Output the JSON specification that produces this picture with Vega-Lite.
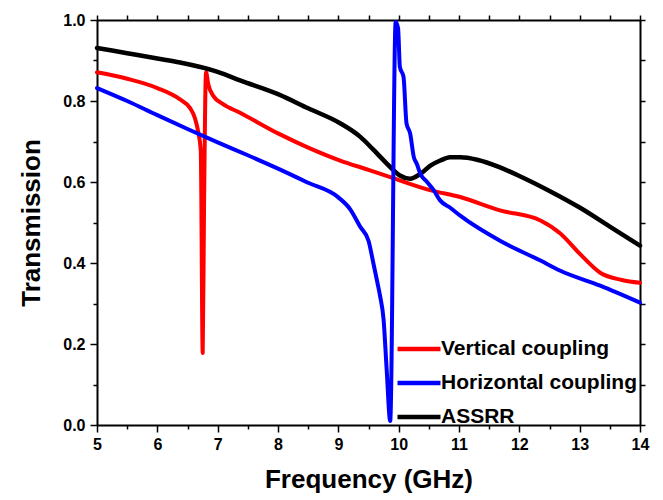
{
  "$schema": "https://vega.github.io/schema/vega-lite/v6.json",
  "width": 543,
  "height": 405,
  "autosize": {"type": "none"},
  "padding": {"left": 97, "top": 20, "right": 23, "bottom": 75},
  "config": {
    "view": {"stroke": null},
    "axis": {"grid": false, "labelColor": "black", "titleColor": "black", "labelFont": "Liberation Sans", "titleFont": "Liberation Sans", "labelFontWeight": "bold", "titleFontWeight": "bold", "labelFontSize": 16, "titleFontSize": 26, "domainColor": "black", "tickColor": "black", "domainWidth": 2, "tickWidth": 1.5}
  },
  "data": {"values": [
    {"s": "Vertical coupling", "f": 5.0, "t": 0.871},
    {"s": "Vertical coupling", "f": 5.5, "t": 0.855},
    {"s": "Vertical coupling", "f": 6.0, "t": 0.832},
    {"s": "Vertical coupling", "f": 6.376, "t": 0.804},
    {"s": "Vertical coupling", "f": 6.54, "t": 0.783},
    {"s": "Vertical coupling", "f": 6.62, "t": 0.759},
    {"s": "Vertical coupling", "f": 6.68, "t": 0.722},
    {"s": "Vertical coupling", "f": 6.72, "t": 0.677},
    {"s": "Vertical coupling", "f": 6.752, "t": 0.178},
    {"s": "Vertical coupling", "f": 6.774, "t": 0.537},
    {"s": "Vertical coupling", "f": 6.807, "t": 0.871},
    {"s": "Vertical coupling", "f": 6.845, "t": 0.841},
    {"s": "Vertical coupling", "f": 6.93, "t": 0.812},
    {"s": "Vertical coupling", "f": 7.09, "t": 0.792},
    {"s": "Vertical coupling", "f": 7.37, "t": 0.771},
    {"s": "Vertical coupling", "f": 8.0, "t": 0.72},
    {"s": "Vertical coupling", "f": 8.5, "t": 0.685},
    {"s": "Vertical coupling", "f": 9.03, "t": 0.653},
    {"s": "Vertical coupling", "f": 9.5, "t": 0.63},
    {"s": "Vertical coupling", "f": 9.86, "t": 0.612},
    {"s": "Vertical coupling", "f": 10.52, "t": 0.58},
    {"s": "Vertical coupling", "f": 11.02, "t": 0.563},
    {"s": "Vertical coupling", "f": 11.68, "t": 0.53},
    {"s": "Vertical coupling", "f": 12.35, "t": 0.505},
    {"s": "Vertical coupling", "f": 12.68, "t": 0.473},
    {"s": "Vertical coupling", "f": 13.0, "t": 0.423},
    {"s": "Vertical coupling", "f": 13.34, "t": 0.376},
    {"s": "Vertical coupling", "f": 13.7, "t": 0.358},
    {"s": "Vertical coupling", "f": 14.0, "t": 0.351},
    {"s": "ASSRR", "f": 5.0, "t": 0.931},
    {"s": "ASSRR", "f": 5.5, "t": 0.918},
    {"s": "ASSRR", "f": 6.0, "t": 0.905},
    {"s": "ASSRR", "f": 6.376, "t": 0.895},
    {"s": "ASSRR", "f": 7.0, "t": 0.872},
    {"s": "ASSRR", "f": 7.37, "t": 0.851},
    {"s": "ASSRR", "f": 8.0, "t": 0.817},
    {"s": "ASSRR", "f": 8.5, "t": 0.782},
    {"s": "ASSRR", "f": 9.03, "t": 0.745},
    {"s": "ASSRR", "f": 9.36, "t": 0.712},
    {"s": "ASSRR", "f": 9.58, "t": 0.68},
    {"s": "ASSRR", "f": 9.86, "t": 0.637},
    {"s": "ASSRR", "f": 10.02, "t": 0.616},
    {"s": "ASSRR", "f": 10.19, "t": 0.608},
    {"s": "ASSRR", "f": 10.36, "t": 0.62},
    {"s": "ASSRR", "f": 10.52, "t": 0.64},
    {"s": "ASSRR", "f": 10.69, "t": 0.653},
    {"s": "ASSRR", "f": 10.85, "t": 0.661},
    {"s": "ASSRR", "f": 11.02, "t": 0.661},
    {"s": "ASSRR", "f": 11.3, "t": 0.655},
    {"s": "ASSRR", "f": 11.68, "t": 0.636},
    {"s": "ASSRR", "f": 12.0, "t": 0.615},
    {"s": "ASSRR", "f": 12.5, "t": 0.578},
    {"s": "ASSRR", "f": 13.0, "t": 0.537},
    {"s": "ASSRR", "f": 13.5, "t": 0.49},
    {"s": "ASSRR", "f": 14.0, "t": 0.443},
    {"s": "Horizontal coupling", "f": 5.0, "t": 0.832},
    {"s": "Horizontal coupling", "f": 5.5, "t": 0.8},
    {"s": "Horizontal coupling", "f": 6.0, "t": 0.765},
    {"s": "Horizontal coupling", "f": 6.5, "t": 0.731},
    {"s": "Horizontal coupling", "f": 7.0, "t": 0.698},
    {"s": "Horizontal coupling", "f": 7.5, "t": 0.666},
    {"s": "Horizontal coupling", "f": 8.0, "t": 0.633},
    {"s": "Horizontal coupling", "f": 8.5, "t": 0.598},
    {"s": "Horizontal coupling", "f": 9.0, "t": 0.562},
    {"s": "Horizontal coupling", "f": 9.2, "t": 0.532},
    {"s": "Horizontal coupling", "f": 9.36, "t": 0.49},
    {"s": "Horizontal coupling", "f": 9.5, "t": 0.455},
    {"s": "Horizontal coupling", "f": 9.58, "t": 0.4},
    {"s": "Horizontal coupling", "f": 9.65, "t": 0.35},
    {"s": "Horizontal coupling", "f": 9.69, "t": 0.32},
    {"s": "Horizontal coupling", "f": 9.75, "t": 0.26},
    {"s": "Horizontal coupling", "f": 9.8, "t": 0.14},
    {"s": "Horizontal coupling", "f": 9.86, "t": 0.01},
    {"s": "Horizontal coupling", "f": 9.95, "t": 0.995},
    {"s": "Horizontal coupling", "f": 9.99, "t": 0.98},
    {"s": "Horizontal coupling", "f": 10.02, "t": 0.884},
    {"s": "Horizontal coupling", "f": 10.08, "t": 0.86},
    {"s": "Horizontal coupling", "f": 10.13, "t": 0.745},
    {"s": "Horizontal coupling", "f": 10.19, "t": 0.72},
    {"s": "Horizontal coupling", "f": 10.25, "t": 0.662},
    {"s": "Horizontal coupling", "f": 10.3, "t": 0.645},
    {"s": "Horizontal coupling", "f": 10.36, "t": 0.62},
    {"s": "Horizontal coupling", "f": 10.47, "t": 0.6},
    {"s": "Horizontal coupling", "f": 10.58, "t": 0.58},
    {"s": "Horizontal coupling", "f": 10.69, "t": 0.554},
    {"s": "Horizontal coupling", "f": 10.85, "t": 0.537},
    {"s": "Horizontal coupling", "f": 11.02, "t": 0.517},
    {"s": "Horizontal coupling", "f": 11.68, "t": 0.455},
    {"s": "Horizontal coupling", "f": 12.35, "t": 0.406},
    {"s": "Horizontal coupling", "f": 12.68, "t": 0.381},
    {"s": "Horizontal coupling", "f": 13.34, "t": 0.344},
    {"s": "Horizontal coupling", "f": 14.0, "t": 0.302}
  ]},
  "layer": [
    {
      "transform": [{"filter": "datum.s === 'Vertical coupling'"}],
      "mark": {"type": "line", "strokeWidth": 4, "strokeJoin": "round", "strokeCap": "round", "interpolate": "monotone"},
      "encoding": {
        "x": {"field": "f", "type": "quantitative", "scale": {"domain": [5, 14], "nice": false, "zero": false},
          "axis": {"orient": "bottom", "values": [5, 6, 7, 8, 9, 10, 11, 12, 13, 14], "format": "d", "tickSize": 7,
            "labelPadding": 4, "labelFlush": false, "title": "Frequency (GHz)", "titlePadding": 14}},
        "y": {"field": "t", "type": "quantitative", "scale": {"domain": [0, 1], "nice": false},
          "axis": {"orient": "left", "values": [0, 0.2, 0.4, 0.6, 0.8, 1.0], "format": ".1f", "tickSize": 7,
            "labelPadding": 5, "labelFlush": false, "title": "Transmission", "titlePadding": 18}},
        "color": {"field": "s", "type": "nominal",
          "scale": {"domain": ["Vertical coupling", "Horizontal coupling", "ASSRR"], "range": ["#ff0000", "#0000ff", "#000000"]},
          "legend": {"title": null, "orient": "none", "legendX": 298, "legendY": 305, "padding": 0,
            "symbolType": "stroke", "symbolSize": 1849, "symbolStrokeWidth": 4.5, "labelFontSize": 21, "labelFont": "Liberation Sans",
            "labelFontWeight": "bold", "labelColor": "black", "labelOffset": -2, "rowPadding": -24, "labelLimit": 300}}
      }
    },
    {
      "transform": [{"filter": "datum.s === 'ASSRR'"}],
      "mark": {"type": "line", "strokeWidth": 4.5, "strokeJoin": "round", "strokeCap": "round", "interpolate": "monotone"},
      "encoding": {
        "x": {"field": "f", "type": "quantitative",
          "axis": {"orient": "bottom", "values": [5.5, 6.5, 7.5, 8.5, 9.5, 10.5, 11.5, 12.5, 13.5], "tickSize": 4, "labels": false, "domain": false, "title": null}},
        "y": {"field": "t", "type": "quantitative",
          "axis": {"orient": "left", "values": [0.1, 0.3, 0.5, 0.7, 0.9], "tickSize": 4, "labels": false, "domain": false, "title": null}},
        "color": {"field": "s", "type": "nominal"}
      }
    },
    {
      "transform": [{"filter": "datum.s === 'Horizontal coupling'"}],
      "mark": {"type": "line", "strokeWidth": 4, "strokeJoin": "round", "strokeCap": "round", "interpolate": "monotone"},
      "encoding": {
        "x": {"field": "f", "type": "quantitative",
          "axis": {"orient": "top", "values": [5, 5.5, 6, 6.5, 7, 7.5, 8, 8.5, 9, 9.5, 10, 10.5, 11, 11.5, 12, 12.5, 13, 13.5, 14],
            "tickSize": 5, "labels": false, "title": null}},
        "y": {"field": "t", "type": "quantitative",
          "axis": {"orient": "right", "values": [0, 0.1, 0.2, 0.3, 0.4, 0.5, 0.6, 0.7, 0.8, 0.9, 1.0],
            "tickSize": 5, "labels": false, "title": null}},
        "color": {"field": "s", "type": "nominal"}
      }
    }
  ],
  "resolve": {"axis": {"x": "independent", "y": "independent"}}
}
